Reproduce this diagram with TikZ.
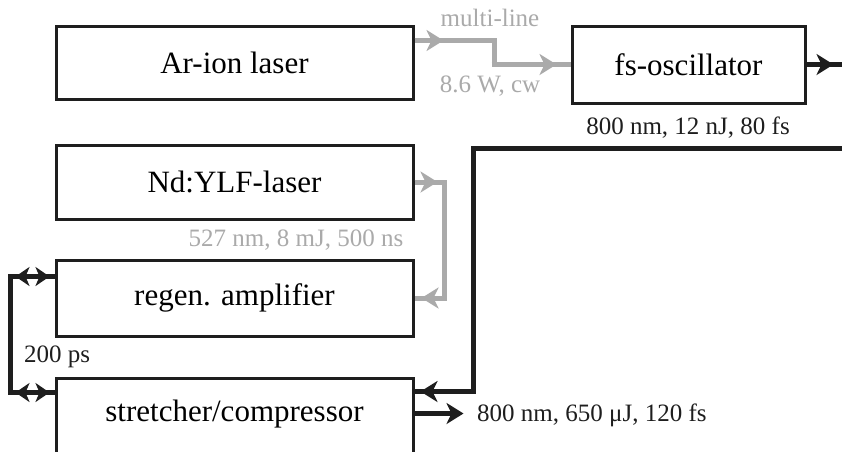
\documentclass[tikz,border=0pt]{standalone}
\usepackage{fontspec}
\setmainfont{Liberation Serif}
\usetikzlibrary{arrows.meta,calc}
\definecolor{beamgray}{RGB}{170,170,170}
\definecolor{inkdark}{RGB}{30,30,30}
\tikzset{
  box/.style={draw=inkdark,line width=3pt,minimum width=357pt,inner sep=0pt,font=\fontsize{31}{36}\selectfont},
  bigtxt/.style={font=\fontsize{31}{36}\selectfont,inner sep=0pt},
  smalltxt/.style={font=\fontsize{25}{30}\selectfont,inner sep=0pt,text=inkdark},
  graytxt/.style={font=\fontsize{25}{30}\selectfont,inner sep=0pt,text=beamgray},
  grayline/.style={draw=beamgray,line width=5pt},
  blackline/.style={draw=inkdark,line width=5pt},
  tipg/.style={grayline,-{Stealth[length=17pt,width=21pt,inset=5pt]}},
  tipb/.style={blackline,-{Stealth[length=17pt,width=21pt,inset=5pt]}},
  tipsmall/.style={blackline,-{Stealth[length=14pt,width=19pt,inset=4pt]}},
}
\begin{document}
\begin{tikzpicture}[x=1pt,y=-1pt]
\useasboundingbox (0,0) rectangle (842,451);
\clip (0,0) rectangle (842,451);
\fill[white] (0,0) rectangle (842,451);

% boxes
\node[box,minimum height=73pt] (ar) at (234.5,62.5) {Ar-ion laser};
\node[box,minimum width=233pt,minimum height=77pt] (fs) at (688.5,64.5) {fs-oscillator};
\node[box,minimum height=74pt] (nd) at (234.5,182) {Nd:YLF-laser};
\node[box,minimum height=76pt] (regen) at (234.5,298) {regen. amplifier};
\node[box,minimum height=120pt] (stretch) at (234.5,438) {};
\node[bigtxt] (stretchlbl) at (234.5,414) {stretcher/compressor};

% Ar-ion -> fs-oscillator (gray)
\coordinate (arout) at ($(ar.north east)+(0,16)$);
\draw[grayline] (arout) -- ++(80,0) |- (fs.west);
\draw[tipg] (arout) -- ++(29,0);
\draw[tipg] ($(fs.west)+(-79,0)$) -- ($(fs.west)+(-14,0)$);
\node[graytxt] (ml) at (490,18) {multi-line};
\node[graytxt] (pw) at (490,86) {8.6 W, cw};

% fs-oscillator output
\coordinate (fsend) at (850,64.5);
\draw[blackline] (fs.east) -- (fsend);
\draw[tipb] (fs.east) -- ++(27,0);
\node[smalltxt] (fsinfo) at (688,128) {800 nm, 12 nJ, 80 fs};

% seed beam into stretcher
\coordinate (seedstart) at (850,148);
\coordinate (sin) at ($(stretch.north east)+(0,15)$);
\draw[blackline] (seedstart) -| ($(sin)+(59,0)$) -- (sin);
\draw[tipb] ($(sin)+(30,0)$) -- ($(sin)+(6,0)$);

% stretcher output
\coordinate (sout) at ($(stretch.north east)+(0,37)$);
\coordinate (soutend) at ($(sout)+(49,0)$);
\draw[tipb] (sout) -- (soutend);
\node[smalltxt,anchor=west] (outinfo) at (477,415) {800 nm, 650 μJ, 120 fs};

% Nd:YLF pump -> regen (gray)
\draw[grayline] (nd.east) -- ++(30,0) |- (regen.east);
\draw[tipg] (nd.east) -- ++(23,0);
\draw[tipg] ($(regen.east)+(26,0)$) -- ($(regen.east)+(7,0)$);
\node[graytxt] (pumpinfo) at (296,240) {527 nm, 8 mJ, 500 ns};

% regen <-> stretcher loop
\coordinate (rl) at ($(regen.north west)+(0,18)$);
\coordinate (sl) at ($(stretch.north west)+(0,16)$);
\draw[blackline] (rl) -- ++(-44,0) |- (sl);
\draw[tipsmall] ($(rl)+(-20,0)$) -- ($(rl)+(-39,0)$);
\draw[tipsmall] ($(rl)+(-24,0)$) -- ($(rl)+(-5,0)$);
\draw[tipsmall] ($(sl)+(-20,0)$) -- ($(sl)+(-39,0)$);
\draw[tipsmall] ($(sl)+(-24,0)$) -- ($(sl)+(-5,0)$);
\node[smalltxt] (delay) at (57,357) {200 ps};
\end{tikzpicture}
\end{document}
